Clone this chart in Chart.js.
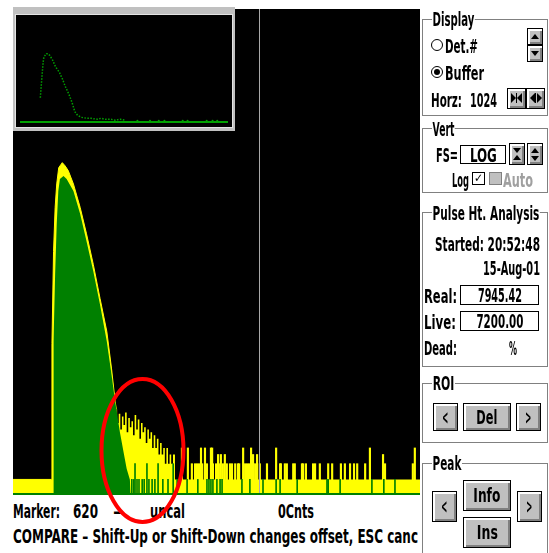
<!DOCTYPE html>
<html>
<head>
<meta charset="utf-8">
<script src="https://cdn.jsdelivr.net/npm/chart.js@4.4.1/dist/chart.umd.min.js"></script>
<style>
body{margin:0;width:549px;height:553px;background:#fff;position:relative;overflow:hidden;
  font-family:"DejaVu Sans Condensed","Liberation Sans Narrow",sans-serif;font-size:19px;font-weight:bold;color:#000}
.a{position:absolute;white-space:nowrap;line-height:18px;transform-origin:0 50%}
.c{display:inline-block;white-space:nowrap;transform-origin:50% 50%}
#plot{position:absolute;left:13px;top:9px;width:407px;height:484px;background:#000}
#axis{position:absolute;left:13px;top:493px;width:407px;height:2px;background:#008000}
#inset{position:absolute;left:13px;top:7px;width:222px;height:124px;background:#c0c0c0}
#insetIn{position:absolute;left:2px;top:7px;width:216px;height:112px;background:#000;border:1px solid #e4e4e4}
.grp{position:absolute;box-sizing:border-box;border:1px solid #808080}
.ttl{background:#fff;padding:0 1px}
.btn{position:absolute;box-sizing:border-box;background:#c0c0c0;border:1px solid #000;
  box-shadow:inset 2px 2px 0 #fff,inset -2px -2px 0 #808080;text-align:center}
.box{position:absolute;box-sizing:border-box;background:#fff;border:1px solid #000;text-align:center;line-height:18px}
.tri{width:0;height:0;position:absolute;left:50%;margin-left:-4px;border-left:4px solid transparent;border-right:4px solid transparent}
.up{border-bottom:5px solid #000}
.dn{border-top:5px solid #000}
.rad{position:absolute;box-sizing:border-box;width:12px;height:12px;border:1px solid #000;border-radius:50%;background:#fff}
.tl{position:absolute;top:4px;border-top:5px solid transparent;border-bottom:5px solid transparent;border-right:5px solid #000}
.tr{position:absolute;top:4px;border-top:5px solid transparent;border-bottom:5px solid transparent;border-left:5px solid #000}
.bar{position:absolute;top:4px;width:1px;height:10px;background:#000}
</style>
</head>
<body>

<div id="plot"><canvas id="main"></canvas></div>
<div id="axis"></div>
<div id="inset"><div id="insetIn"><canvas id="mini"></canvas></div></div>

<div class="a" data-w="47" style="left:13px;top:502px">Marker:</div>
<div class="a" data-w="25" style="left:73px;top:502px">620</div>
<div class="a" data-w="9" style="left:113px;top:502px">–</div>
<div class="a" data-w="35" style="left:150px;top:502px">uncal</div>
<div class="a" data-w="36" style="left:278px;top:502px">0Cnts</div>
<div class="a" data-w="405" style="left:13px;top:527px">COMPARE – Shift-Up or Shift-Down changes offset, ESC canc</div>

<svg style="position:absolute;left:0;top:0" width="549" height="553">
  <ellipse cx="142.5" cy="450.5" rx="41" ry="71.5" fill="none" stroke="#ff0000" stroke-width="4"/>
</svg>

<!-- Display -->
<div class="grp" style="left:422px;top:19px;width:126px;height:97px"></div>
<div class="a ttl" data-w="43" style="left:432px;top:10px">Display</div>
<div class="rad" style="left:431px;top:39px"></div>
<div class="a" data-w="33" style="left:445px;top:37px">Det.#</div>
<div class="rad" style="left:431px;top:66px"></div>
<div class="a" style="left:434px;top:69px;width:6px;height:6px;border-radius:50%;background:#000"></div>
<div class="a" data-w="39" style="left:445px;top:64px">Buffer</div>
<div class="a" data-w="31" style="left:431px;top:91px">Horz:</div>
<div class="a" data-w="27" style="left:470px;top:91px">1024</div>
<div class="btn" style="left:527px;top:28px;width:16px;height:17px"><div class="tri up" style="top:5px"></div></div>
<div class="btn" style="left:527px;top:45px;width:16px;height:17px"><div class="tri dn" style="top:5px"></div></div>
<div class="btn" style="left:507px;top:88px;width:19px;height:21px">
  <div class="tr" style="left:3px"></div><div class="bar" style="left:8px"></div><div class="tl" style="left:9px"></div>
</div>
<div class="btn" style="left:526px;top:88px;width:19px;height:21px">
  <div class="tl" style="left:3px"></div><div class="bar" style="left:8px"></div><div class="tr" style="left:10px"></div>
</div>

<!-- Vert -->
<div class="grp" style="left:422px;top:128px;width:126px;height:65px"></div>
<div class="a ttl" data-w="23" style="left:432px;top:120px">Vert</div>
<div class="a" data-w="22" style="left:436px;top:146px">FS=</div>
<div class="box" style="left:460px;top:145px;width:46px;height:19px"><span class="c" data-w="27">LOG</span></div>
<div class="btn" style="left:509px;top:143px;width:16px;height:22px">
  <div class="tri dn" style="top:4px"></div><div class="tri up" style="top:11px"></div></div>
<div class="btn" style="left:527px;top:143px;width:16px;height:22px">
  <div class="tri up" style="top:4px"></div><div class="tri dn" style="top:12px"></div></div>
<div class="a" data-w="17" style="left:452px;top:171px">Log</div>
<div class="a" style="left:472px;top:172px;width:11px;height:11px;border:1px solid #000;background:#fff;font-size:12px;line-height:11px;text-align:center">✓</div>
<div class="a" style="left:489px;top:172px;width:11px;height:11px;border:1px solid #808080;background:#c0c0c0"></div>
<div class="a" data-w="30" style="left:503px;top:171px;color:#a0a0a0">Auto</div>

<!-- Pulse Ht. Analysis -->
<div class="grp" style="left:422px;top:212px;width:126px;height:155px"></div>
<div class="a ttl" data-w="108" style="left:432px;top:204px">Pulse Ht. Analysis</div>
<div class="a" data-w="105" style="left:435px;top:235px">Started: 20:52:48</div>
<div class="a" data-w="57" style="left:483px;top:259px">15-Aug-01</div>
<div class="a" data-w="33" style="left:424px;top:287px">Real:</div>
<div class="box" style="left:460px;top:285px;width:79px;height:20px"><span class="c" data-w="44">7945.42</span></div>
<div class="a" data-w="32" style="left:424px;top:313px">Live:</div>
<div class="box" style="left:460px;top:311px;width:79px;height:20px"><span class="c" data-w="47">7200.00</span></div>
<div class="a" data-w="33" style="left:424px;top:339px">Dead:</div>
<div class="a" data-w="8" style="left:509px;top:339px">%</div>

<!-- ROI -->
<div class="grp" style="left:422px;top:383px;width:126px;height:60px"></div>
<div class="a ttl" data-w="23" style="left:432px;top:374px">ROI</div>
<div class="btn" style="left:433px;top:403px;width:25px;height:28px;line-height:26px"><span class="c" data-w="6">&lt;</span></div>
<div class="btn" style="left:463px;top:403px;width:48px;height:28px;line-height:26px"><span class="c" data-w="21">Del</span></div>
<div class="btn" style="left:516px;top:403px;width:25px;height:28px;line-height:26px"><span class="c" data-w="6">&gt;</span></div>

<!-- Peak -->
<div class="grp" style="left:422px;top:463px;width:126px;height:100px"></div>
<div class="a ttl" data-w="30" style="left:432px;top:454px">Peak</div>
<div class="btn" style="left:432px;top:491px;width:25px;height:31px;line-height:29px"><span class="c" data-w="6">&lt;</span></div>
<div class="btn" style="left:463px;top:480px;width:48px;height:31px;line-height:29px"><span class="c" data-w="27">Info</span></div>
<div class="btn" style="left:463px;top:517px;width:48px;height:31px;line-height:29px"><span class="c" data-w="21">Ins</span></div>
<div class="btn" style="left:517px;top:491px;width:25px;height:31px;line-height:29px"><span class="c" data-w="6">&gt;</span></div>

<script>
const channels = 1024;
const markerChannel = 620;

// buffer spectrum (yellow), peak part
const bufPeakCh = [0, 97, 98, 102, 106, 110, 115, 124, 131, 139, 152, 169, 185, 202, 219, 236, 248, 257, 260];
const bufPeakCnt = [1, 1, 400, 23000, 160000, 450000, 920000, 1150000, 1000000, 810000, 450000, 160000, 50000, 13000, 2900, 680, 130, 31, 22];

// buffer spectrum, noisy tail
const bufTailCh = [260, 264, 268, 272, 276, 280, 284, 288, 292, 296, 300, 304, 308, 312, 316, 320, 324, 328, 332, 336,
  340, 344, 348, 352, 356, 360, 364, 368, 372, 376, 380, 384, 388, 392, 396, 400, 405, 410, 1024];
const bufTailCnt = [22, 12, 18, 9, 16, 11, 19, 8, 15, 10, 13, 7, 17, 9, 14, 6, 12, 8, 10, 5,
  9, 6, 8, 4, 7, 4, 6, 3, 5, 3, 4, 2, 4, 2, 3, 2, 3, 1, 1];

// buffer, single channels above the floor
const bufSpikeCh = [425, 440, 450, 458, 463, 468, 473, 476, 483, 488, 498, 501, 503, 511, 516, 518, 523, 528, 533, 538,
  546, 551, 559, 566, 569, 579, 584, 589, 594, 599, 601, 604, 606, 611, 614, 621, 639, 662, 672, 674,
  684, 689, 705, 709, 727, 730, 737, 755, 760, 772, 793, 803, 825, 835, 848, 858, 866, 886, 898, 931,
  936, 1006, 1011];
const bufSpikeCnt = [4, 4, 2, 2, 2, 2, 4, 2, 4, 2, 4, 4, 2, 2, 3, 2, 3, 2, 3, 2,
  2, 2, 2, 2, 2, 4, 2, 2, 2, 4, 2, 3, 2, 2, 3, 2, 2, 4, 2, 2,
  2, 2, 2, 2, 2, 2, 2, 2, 2, 2, 2, 2, 2, 2, 2, 2, 2, 2, 4, 3,
  2, 2, 4];

// compare spectrum (green)
const cmpPeakCh = [101, 102, 106, 110, 114, 118, 127, 135, 152, 169, 185, 202, 219, 236, 248, 257, 269, 278, 286, 294, 296];
const cmpPeakCnt = [0.55, 435, 8500, 77000, 330000, 560000, 640000, 560000, 330000, 120000, 36000, 9600, 2200, 435, 100, 31, 8, 3.4, 1.6, 1, 0.55];

const cmpSpikeCh = [299, 304, 307, 312, 317, 325, 330, 337, 342, 350, 357, 365, 377, 390, 403, 413, 438, 465, 488, 493,
  498, 503, 513, 521, 526, 576, 596, 629, 662, 672, 715, 790, 793, 823, 903, 933, 961];
const cmpSpikeCnt = [1, 1, 2, 1, 1, 1, 1, 2, 1, 1, 1, 2, 1, 1, 2, 1, 1, 1, 1, 1,
  1, 1, 1, 1, 1, 1, 1, 1, 1, 1, 1, 1, 1, 1, 1, 1, 1];

// overview window (linear)
const insetCh = [100, 109, 114, 118, 123, 130, 137, 147, 161, 175, 194, 209, 223, 242, 256, 270, 284, 303, 330, 351,
  380, 398, 420, 446, 470, 493, 520];
const insetCnt = [260, 510, 640, 700, 710, 730, 730, 710, 660, 590, 530, 460, 380, 290, 210, 110, 70, 50, 40, 40,
  30, 40, 30, 30, 20, 30, 20];
const insetDotCh = [578, 640, 683, 711, 801, 825, 919, 948, 971];
const insetDotCnt = [15, 15, 15, 15, 15, 15, 15, 15, 15];

const YELLOW = '#ffff00';
const GREEN = '#008000';

function pts(xs, ys) {
    return xs.map((x, i) => ({ x: x, y: ys[i] }));
}

// squeeze the labels to the narrow system font widths
document.querySelectorAll('[data-w]').forEach(el => {
    const w = el.getBoundingClientRect().width;
    if (w > 0) el.style.transform = 'scaleX(' + (parseFloat(el.dataset.w) / w) + ')';
});

const markerLine = {
    id: 'markerLine',
    afterDatasetsDraw(chart) {
        const ctx = chart.ctx;
        const x = Math.round(chart.scales.x.getPixelForValue(markerChannel)) + 0.5;
        ctx.save();
        ctx.strokeStyle = '#a8a8a8';
        ctx.lineWidth = 1;
        ctx.beginPath();
        ctx.moveTo(x, chart.chartArea.top);
        ctx.lineTo(x, chart.chartArea.bottom);
        ctx.stroke();
        ctx.restore();
    }
};

new Chart(document.getElementById('main').getContext('2d'), {
    type: 'line',
    data: {
        datasets: [
            {
                data: pts(cmpPeakCh, cmpPeakCnt),
                order: 1,
                borderColor: GREEN, backgroundColor: GREEN, borderWidth: 0,
                fill: 'start', pointRadius: 0, tension: 0
            },
            {
                type: 'bar',
                data: pts(cmpSpikeCh, cmpSpikeCnt),
                order: 2,
                backgroundColor: GREEN, barThickness: 1, grouped: false
            },
            {
                data: pts(bufPeakCh, bufPeakCnt),
                order: 3,
                borderColor: YELLOW, backgroundColor: YELLOW, borderWidth: 1,
                fill: 'start', pointRadius: 0, tension: 0
            },
            {
                data: pts(bufTailCh, bufTailCnt),
                order: 4,
                borderColor: YELLOW, backgroundColor: YELLOW, borderWidth: 0,
                fill: 'start', pointRadius: 0, stepped: 'middle'
            },
            {
                type: 'bar',
                data: pts(bufSpikeCh, bufSpikeCnt),
                order: 5,
                backgroundColor: YELLOW, barThickness: 1.5, grouped: false
            }
        ]
    },
    options: {
        responsive: true,
        maintainAspectRatio: false,
        animation: false,
        events: [],
        layout: { padding: 0 },
        plugins: { legend: { display: false }, tooltip: { enabled: false } },
        scales: {
            x: { type: 'linear', min: 0, max: channels, offset: false, display: false },
            y: { type: 'logarithmic', min: 0.55, max: 1e9, display: false }
        }
    },
    plugins: [markerLine]
});

new Chart(document.getElementById('mini').getContext('2d'), {
    type: 'line',
    data: {
        datasets: [
            {
                data: [{ x: 0, y: 0 }, { x: channels, y: 0 }],
                borderColor: '#00a000', borderWidth: 2, pointRadius: 0
            },
            {
                data: pts(insetCh, insetCnt),
                borderColor: '#00a000', borderWidth: 1.5, borderDash: [1.5, 1.5], pointRadius: 0, tension: 0
            },
            {
                data: pts(insetDotCh, insetDotCnt),
                showLine: false, pointRadius: 1, pointBorderWidth: 0, pointBackgroundColor: '#00a000'
            }
        ]
    },
    options: {
        responsive: true,
        maintainAspectRatio: false,
        animation: false,
        events: [],
        layout: { padding: 0 },
        plugins: { legend: { display: false }, tooltip: { enabled: false } },
        scales: {
            x: { type: 'linear', min: 0, max: channels, display: false },
            y: { type: 'linear', min: -10, max: 1100, display: false }
        }
    }
});
</script>
</body>
</html>
